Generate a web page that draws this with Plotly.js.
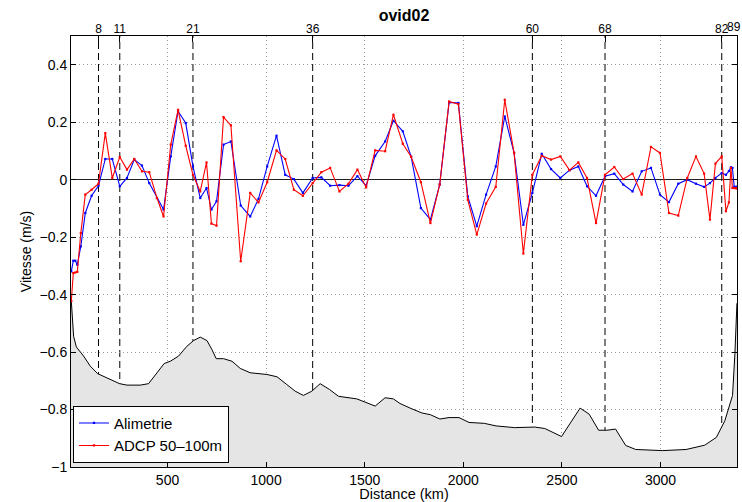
<!DOCTYPE html>
<html>
<head>
<meta charset="utf-8">
<script src="https://cdn.plot.ly/plotly-3.0.1.min.js"></script>
<style>
  html, body { margin: 0; padding: 0; background: #ffffff; }
  #chart { width: 742px; height: 502px; }
</style>
</head>
<body>
<div id="chart"></div>
<script>
// Station positions along the section (km), stations 1..89
const stationDist = [
  12.2, 22.3, 32.4, 42.6, 60.3, 83.1, 115.0, 150.0, 184.5, 219.9,
  258.0, 294.4, 331.4, 370.4, 407.4, 446.5, 479.9, 516.4, 553.4, 592.4,
  629.0, 665.9, 697.8, 722.6, 748.5, 784.0, 821.5, 871.1, 919.3, 961.3,
  1005.4, 1052.6, 1096.7, 1140.7, 1186.4, 1236.0, 1280.0, 1324.7, 1371.8, 1417.4,
  1463.0, 1507.1, 1552.7, 1603.4, 1645.5, 1693.1, 1735.2, 1784.8, 1833.0, 1880.1,
  1927.8, 1974.9, 2022.5, 2068.2, 2115.3, 2164.5, 2210.1, 2257.2, 2304.3, 2350.0,
  2397.5, 2444.7, 2491.8, 2538.4, 2583.0, 2627.1, 2672.7, 2718.3, 2765.4, 2811.0,
  2857.7, 2904.3, 2951.4, 2997.0, 3042.6, 3089.8, 3135.4, 3179.5, 3221.0, 3250.4,
  3278.3, 3310.2, 3331.5, 3346.7, 3356.8, 3364.4, 3373.6, 3382.2, 3387.3
];

// Cross-track velocity from altimetry (m/s)
const alimetrie = [
  -0.319, -0.282, -0.282, -0.296, -0.232, -0.116, -0.056, -0.021, 0.072, 0.072,
  -0.023, 0.006, 0.070, 0.049, -0.012, -0.064, -0.104, 0.081, 0.238, 0.197,
  0.046, -0.064, -0.029, -0.104, -0.075, 0.122, 0.133, -0.090, -0.128, -0.067,
  0.046, 0.153, 0.017, 0.002, -0.046, 0.006, 0.008, -0.021, -0.019, -0.021,
  0.012, -0.021, 0.083, 0.133, 0.205, 0.168, 0.080, -0.099, -0.139, -0.017,
  0.269, 0.267, -0.058, -0.162, -0.052, 0.046, 0.220, 0.093, -0.157, -0.046,
  0.090, 0.037, 0.006, 0.033, 0.046, -0.023, -0.056, 0.012, 0.021, -0.017,
  -0.041, 0.029, 0.041, -0.052, -0.078, -0.014, 0.000, -0.014, -0.025, -0.012,
  0.006, 0.023, 0.017, 0.030, 0.043, 0.041, -0.025, -0.025, -0.025
];

// Cross-track velocity from ADCP, 50-100 m layer (m/s)
const adcp = [
  -0.423, -0.325, -0.323, -0.321, -0.186, -0.052, -0.035, -0.014, 0.162, 0.006,
  0.079, 0.035, 0.072, 0.029, 0.026, -0.064, -0.128, 0.122, 0.243, 0.118,
  0.017, -0.041, 0.060, -0.153, -0.160, 0.218, 0.189, -0.284, -0.046, -0.079,
  -0.009, 0.102, 0.072, -0.035, -0.056, -0.012, 0.026, 0.041, -0.041, -0.014,
  0.035, -0.027, 0.102, 0.099, 0.226, 0.125, 0.080, -0.009, -0.151, -0.017,
  0.272, 0.263, -0.070, -0.191, -0.083, -0.025, 0.278, 0.093, -0.257, 0.017,
  0.083, 0.070, 0.081, 0.033, 0.060, 0.006, -0.151, 0.017, 0.044, 0.002,
  0.021, -0.052, 0.114, 0.093, -0.116, -0.125, 0.006, 0.081, 0.021, -0.139,
  0.056, 0.081, -0.110, -0.079, 0.041, -0.029, -0.029, -0.030, -0.030
];

// Scaled bottom profile along the section
const bathyDist = [
  10.6, 15.7, 23.8, 37.5, 74.5, 108.4, 145.4, 193, 257, 294,
  362, 404, 446, 483, 514, 556, 598, 632, 666, 700,
  725, 747, 784, 827, 869, 919, 1004, 1055, 1105, 1147,
  1189, 1232, 1274, 1321, 1367, 1460, 1553, 1603, 1645, 1679,
  1730, 1790, 1833, 1881, 1927, 1978, 2029, 2106, 2166, 2260,
  2362, 2413, 2498, 2592, 2638, 2686, 2728, 2772, 2823, 2874,
  3010, 3130, 3224, 3283, 3326, 3365, 3377, 3384, 3387.3
];
const bathyLevel = [
  -0.406, -0.452, -0.545, -0.582, -0.614, -0.649, -0.675, -0.690, -0.710, -0.715,
  -0.715, -0.710, -0.672, -0.640, -0.632, -0.614, -0.580, -0.560, -0.548, -0.560,
  -0.591, -0.623, -0.623, -0.632, -0.657, -0.672, -0.678, -0.686, -0.713, -0.736,
  -0.751, -0.736, -0.710, -0.730, -0.754, -0.763, -0.788, -0.759, -0.763, -0.779,
  -0.795, -0.812, -0.818, -0.833, -0.828, -0.828, -0.845, -0.848, -0.857, -0.863,
  -0.861, -0.866, -0.894, -0.795, -0.816, -0.872, -0.872, -0.868, -0.925, -0.939,
  -0.943, -0.939, -0.924, -0.897, -0.839, -0.751, -0.605, -0.500, -0.430
];

// Stations marked on the top axis, and those with a vertical guide
const labelledStations = [8, 11, 21, 36, 60, 68, 82, 89];
const guideStations = [8, 11, 21, 36, 60, 68, 82];

const yTickVals = [-1, -0.8, -0.6, -0.4, -0.2, 0, 0.2, 0.4];
const xTickVals = [500, 1000, 1500, 2000, 2500, 3000];

const yBottom = -1;
const yTop = 0.5;
const xRange = [10.6, stationDist[stationDist.length - 1] + 0.3];

const distOf = s => stationDist[s - 1];
const lastStation = labelledStations[labelledStations.length - 1];

const traces = [
  {
    x: bathyDist, y: bathyDist.map(() => yBottom),
    mode: 'lines', line: { width: 0, color: 'rgba(0,0,0,0)' },
    showlegend: false, hoverinfo: 'skip'
  },
  {
    x: bathyDist, y: bathyLevel,
    mode: 'lines', fill: 'tonexty', fillcolor: '#e5e5e5',
    line: { color: '#000000', width: 1 },
    showlegend: false, hoverinfo: 'skip'
  },
  {
    name: 'Alimetrie',
    x: stationDist, y: alimetrie,
    mode: 'lines+markers',
    line: { color: '#0000ff', width: 1.1 },
    marker: { color: '#0000ff', size: 2.2, symbol: 'square' }
  },
  {
    name: 'ADCP 50\u2013100m',
    x: stationDist, y: adcp,
    mode: 'lines+markers',
    line: { color: '#ff0000', width: 1.1 },
    marker: { color: '#ff0000', size: 2.2, symbol: 'square' }
  },
  {
    x: labelledStations.map(distOf), y: labelledStations.map(() => 0),
    xaxis: 'x2', mode: 'markers', marker: { opacity: 0 },
    showlegend: false, hoverinfo: 'skip'
  }
];

const guides = guideStations.map(s => ({
  type: 'line', xref: 'x', yref: 'paper',
  x0: distOf(s), x1: distOf(s), y0: 0, y1: 1,
  layer: 'below',
  line: { color: '#000000', width: 1, dash: '7px,4px' }
}));

const fam = 'Liberation Sans, Arial, Helvetica, sans-serif';
const topFont = { family: fam, size: 12, color: '#000000' };

// The last station sits on the right frame edge: its label is right-aligned
// so it stays inside the page
const lastLabel = {
  text: String(lastStation),
  x: distOf(lastStation), xref: 'x',
  y: 1, yref: 'paper', yanchor: 'bottom', yshift: 1,
  xanchor: 'right', xshift: 5.5, borderpad: 0,
  showarrow: false, font: topFont
};

const layout = {
  width: 742, height: 502,
  margin: { l: 71, r: 5, t: 36, b: 35 },
  paper_bgcolor: '#ffffff', plot_bgcolor: '#ffffff',
  font: { family: fam, size: 14, color: '#000000' },
  showlegend: true,
  title: {
    text: '<b>ovid02</b>',
    font: { family: fam, size: 16, color: '#000000' },
    x: 0.5, xref: 'paper', xanchor: 'center',
    y: 0.970, yref: 'container', yanchor: 'middle'
  },
  xaxis: {
    range: xRange,
    tickvals: xTickVals,
    ticks: 'inside', ticklen: 5, tickcolor: '#000000',
    showline: true, linecolor: '#000000', linewidth: 1, mirror: true,
    showgrid: true, gridcolor: '#9a9a9a', griddash: '1px,3px', gridwidth: 1,
    zeroline: false, tickangle: 0,
    tickfont: { family: fam, size: 14, color: '#000000' },
    title: { text: 'Distance (km)', font: { family: fam, size: 14.5, color: '#000000' }, standoff: 4 }
  },
  xaxis2: {
    overlaying: 'x', side: 'top', anchor: 'y',
    range: xRange,
    tickvals: labelledStations.map(distOf),
    ticktext: labelledStations.map(s => (s === lastStation ? '' : String(s))),
    ticks: 'inside', ticklen: 6, tickcolor: '#000000',
    showline: false, showgrid: false, zeroline: false, tickangle: 0,
    tickfont: topFont
  },
  yaxis: {
    range: [yBottom, yTop],
    tickvals: yTickVals,
    ticks: 'inside', ticklen: 5, tickcolor: '#000000',
    showline: true, linecolor: '#000000', linewidth: 1, mirror: 'ticks',
    showgrid: true, gridcolor: '#9a9a9a', griddash: '1px,3px', gridwidth: 1,
    zeroline: true, zerolinecolor: '#222222', zerolinewidth: 1.5,
    tickfont: { family: fam, size: 14, color: '#000000' },
    title: { text: 'Vitesse (m/s)', font: { family: fam, size: 14, color: '#000000' }, standoff: 4 }
  },
  legend: {
    x: 0.003, y: 0.01, xanchor: 'left', yanchor: 'bottom',
    traceorder: 'normal',
    bgcolor: '#ffffff', bordercolor: '#000000', borderwidth: 1,
    font: { family: fam, size: 15, color: '#000000' },
    tracegroupgap: 0, itemwidth: 30
  },
  shapes: guides,
  annotations: [lastLabel]
};

Plotly.newPlot('chart', traces, layout, { displayModeBar: false, staticPlot: true });
</script>
</body>
</html>
